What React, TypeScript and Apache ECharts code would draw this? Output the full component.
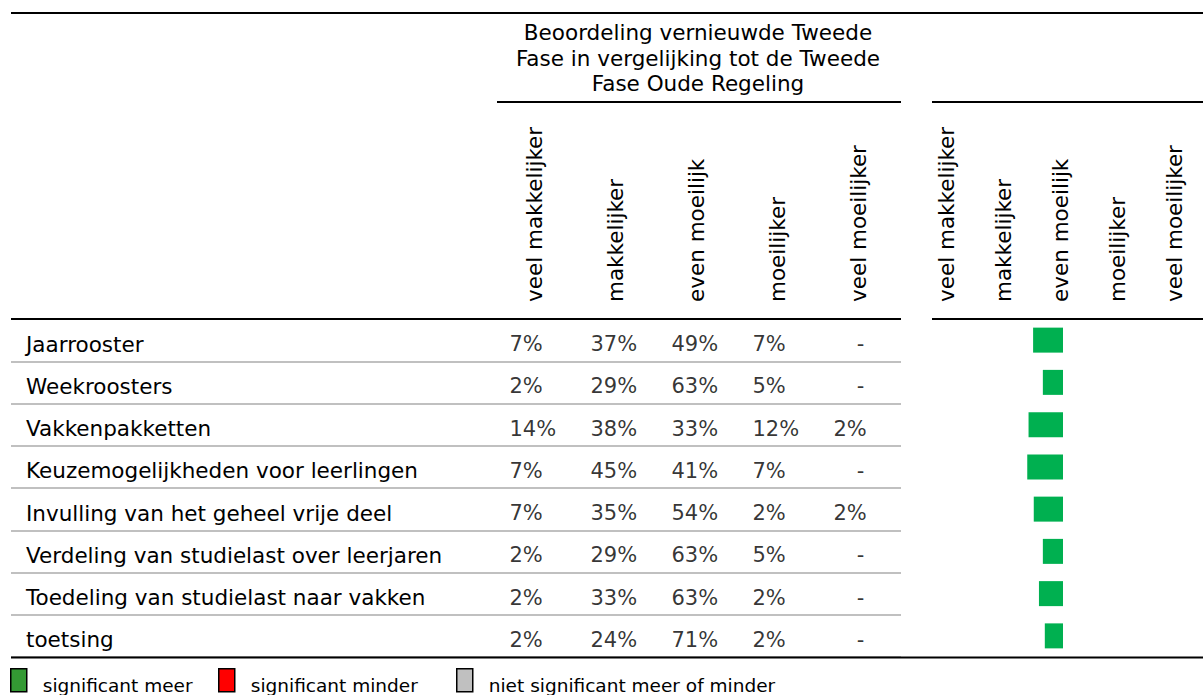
import React, { useEffect, useRef } from "react";
import * as echarts from "echarts";

// ---- data ----
const rowLabels = [
  "Jaarrooster",
  "Weekroosters",
  "Vakkenpakketten",
  "Keuzemogelijkheden voor leerlingen",
  "Invulling van het geheel vrije deel",
  "Verdeling van studielast over leerjaren",
  "Toedeling van studielast naar vakken",
  "toetsing",
];
const columnLabels = ["veel makkelijker", "makkelijker", "even moeilijk", "moeilijker", "veel moeilijker"];
const veelMakkelijker = [7, 2, 14, 7, 7, 2, 2, 2];
const makkelijker = [37, 29, 38, 45, 35, 29, 33, 24];
const evenMoeilijk = [49, 63, 33, 41, 54, 63, 63, 71];
const moeilijker = [7, 5, 12, 7, 2, 5, 2, 2];
const veelMoeilijker: (number | null)[] = [null, null, 2, null, 2, null, null, null];
const effectSize = [-0.46, -0.31, -0.53, -0.55, -0.45, -0.31, -0.37, -0.28];
const significance = ["meer", "meer", "meer", "meer", "meer", "meer", "meer", "meer"];
const titleLines = ["Beoordeling vernieuwde Tweede", "Fase in vergelijking tot de Tweede", "Fase Oude Regeling"];
const legendNames = ["significant meer", "significant minder", "niet significant meer of minder"];
const legendColors = ["#339933", "#ff0000", "#c0c0c0"];
const barColors = ["#00b050", "#ff0000", "#c0c0c0"];
const sigKeys = ["meer", "minder", "niet"];

const FONT = "DejaVu Sans";

export default function App() {
  const ref = useRef<HTMLDivElement>(null);
  useEffect(() => {
    if (!ref.current) return;
    const chart = echarts.init(ref.current, null, { renderer: "svg" });
    const cols = [veelMakkelijker, makkelijker, evenMoeilijk, moeilijker, veelMoeilijker];
    const pctData: any[] = [];
    cols.forEach((arr, c) => {
      arr.forEach((v, r) => {
        const dash = v == null;
        pctData.push({
          value: [c, r],
          label: {
            formatter: dash ? "-" : v + "%",
            align: dash ? "center" : "left",
            offset: dash ? [2, 4] : [-25, 4],
          },
        });
      });
    });
    const hdrAxis = (gridIndex: number) => ({
      gridIndex,
      type: "category",
      data: columnLabels,
      position: "top",
      axisLine: { show: false },
      axisTick: { show: false },
      splitLine: { show: false },
      axisLabel: { rotate: -90, margin: 17, fontSize: 21.5, color: "#000", interval: 0, fontFamily: FONT },
    });
    const hiddenY = (gridIndex: number) => ({
      gridIndex,
      type: "category",
      data: rowLabels,
      inverse: true,
      show: false,
    });
    const line = (x1: number, y1: number, x2: number, y2: number, color = "#000", w = 2) => ({
      type: "line",
      z: 100,
      shape: { x1, y1, x2, y2 },
      style: { stroke: color, lineWidth: w },
    });
    const option: any = {
      animation: false,
      textStyle: { fontFamily: FONT },
      grid: [
        { left: 11, width: 890, top: 319, height: 338 },
        { left: 494, width: 405, top: 319, height: 338 },
        { left: 933, width: 260, top: 319, height: 338 },
        { left: 918.5, width: 284, top: 319, height: 338 },
      ],
      xAxis: [
        { gridIndex: 0, type: "value", min: 0, max: 1, show: false },
        hdrAxis(1),
        { gridIndex: 2, type: "value", min: -2, max: 2, show: false },
        hdrAxis(3),
      ],
      yAxis: [
        {
          gridIndex: 0,
          type: "category",
          data: rowLabels,
          inverse: true,
          axisLine: { show: false },
          axisTick: { show: false },
          axisLabel: {
            inside: true,
            margin: 15,
            interval: 0,
            formatter: (v: string) => `{a|${v}}`,
            rich: {
              a: { fontSize: 21.5, color: "#000", fontFamily: FONT, padding: [8, 0, 0, 0] },
            },
          },
          splitLine: { show: true, interval: 0, lineStyle: { color: "#c0c0c0", width: 2 } },
        },
        hiddenY(1),
        hiddenY(2),
        hiddenY(3),
      ],
      legend: legendNames.map((n, i) => ({
        left: [10, 218, 456][i],
        top: 668,
        padding: 0,
        icon: "rect",
        itemWidth: 16,
        itemHeight: 23,
        selectedMode: false,
        itemStyle: { borderColor: "#000", borderWidth: 1.5 },
        formatter: (name: string) => `{a|${name}}`,
        textStyle: {
          fontSize: 18.5,
          color: "#000",
          fontFamily: FONT,
          padding: [0, 0, 0, 11],
          rich: { a: { fontSize: 18.5, color: "#000", fontFamily: FONT, padding: [11, 0, 0, 0] } },
        },
        data: [{ name: n, itemStyle: { color: legendColors[i], borderColor: "#000", borderWidth: 1.5 } }],
      })),
      series: [
        {
          type: "scatter",
          xAxisIndex: 1,
          yAxisIndex: 1,
          symbolSize: 1,
          itemStyle: { color: "rgba(0,0,0,0)" },
          label: {
            show: true,
            position: "inside",
            fontSize: 21,
            color: "#000",
            fontFamily: FONT,
            verticalAlign: "middle",
          },
          data: pctData,
        },
        ...legendNames.map((n, i) => ({
          type: "bar",
          name: n,
          xAxisIndex: 2,
          yAxisIndex: 2,
          stack: "effect",
          barWidth: 25,
          itemStyle: { color: barColors[i] },
          data: effectSize.map((v, r) => (significance[r] === sigKeys[i] ? v : null)),
        })),
      ],
      graphic: [
        line(11, 13, 1203, 13),
        line(497, 102, 901, 102),
        line(932, 102, 1203, 102),
        line(11, 319, 901, 319),
        line(932, 319, 1203, 319),
        line(11, 657.5, 1203, 657.5),
        {
          type: "text",
          x: 698,
          y: 20,
          z: 100,
          style: {
            text: titleLines.join("\n"),
            fontSize: 21.5,
            fontFamily: FONT,
            lineHeight: 25.5,
            align: "center",
            verticalAlign: "top",
            fill: "#000",
          },
        },
      ],
    };
    chart.setOption(option);
    return () => chart.dispose();
  }, []);
  return (
    <div
      ref={ref}
      style={{ position: "fixed", left: 0, top: 0, width: 1203, height: 695, background: "#fff" }}
    />
  );
}
